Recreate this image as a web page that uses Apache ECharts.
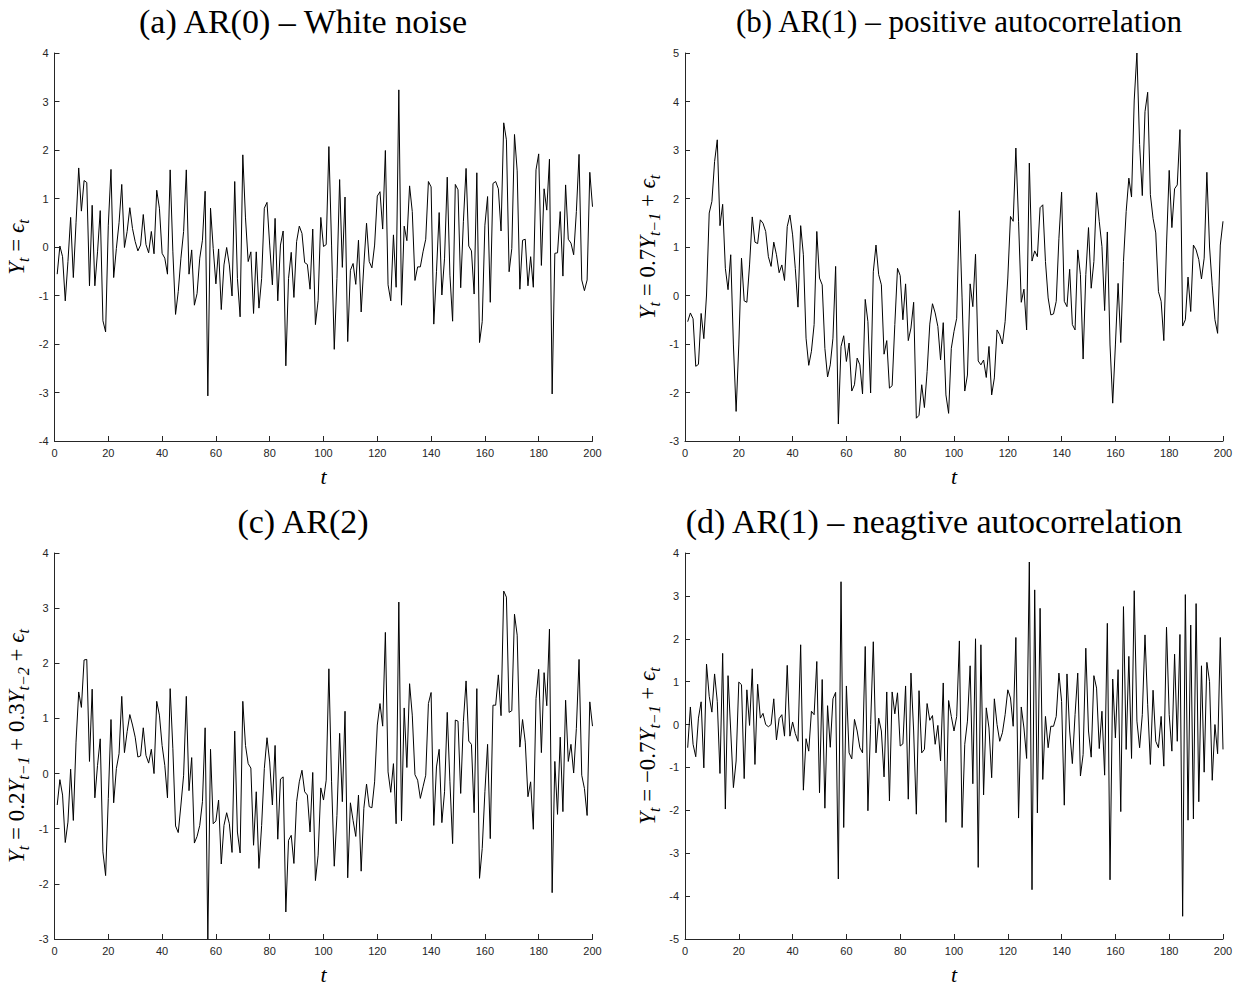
<!DOCTYPE html>
<html><head><meta charset="utf-8">
<script src="https://cdn.jsdelivr.net/npm/echarts@6/dist/echarts.min.js"></script>
<style>html,body{margin:0;padding:0;background:#fff}#c{width:1246px;height:990px}</style>
</head><body><div id="c"></div>
<script>
// ---- data (t = 1..200) ----
const titles = [
  '(a) AR(0) \u2013 White noise',
  '(b) AR(1) \u2013 positive autocorrelation',
  '(c) AR(2)',
  '(d) AR(1) \u2013 neagtive autocorrelation'
];
const yLabels = [
  '{v|Y}{s|t}{n| = }{v|\u03f5}{s|t}',
  '{v|Y}{s|t}{n| = 0.7}{v|Y}{s|t\u22121}{n| + }{v|\u03f5}{s|t}',
  '{v|Y}{s|t}{n| = 0.2}{v|Y}{s|t\u22121}{n| + 0.3}{v|Y}{s|t\u22122}{n| + }{v|\u03f5}{s|t}',
  '{v|Y}{s|t}{n| = \u22120.7}{v|Y}{s|t\u22121}{n| + }{v|\u03f5}{s|t}'
];
const xLabel = 't';
const xTicks = {min: 0, max: 200, interval: 20};
const yRangeA = {min: -4, max: 4, interval: 1};
const yRangeB = {min: -3, max: 5, interval: 1};
const yRangeC = {min: -3, max: 4, interval: 1};
const yRangeD = {min: -5, max: 4, interval: 1};

const seriesA = [
 -0.56, 0.02, -0.2, -1.11, -0.3, 0.61, -0.63, 0.5, 1.63, 0.74,
 1.37, 1.33, -0.8, 0.86, -0.8, -0.1, 0.75, -1.52, -1.75, 0.45,
 1.6, -0.63, -0.03, 0.5, 1.29, -0.01, 0.32, 0.81, 0.38, 0.11,
 -0.08, 0.04, 0.67, 0.05, -0.12, 0.32, -0.14, 1.17, 0.8, -0.13,
 -0.23, -0.56, 1.59, -0.1, -1.39, -0.92, -0.23, 0.32, 1.59, -0.56,
 -0.06, -1.2, -0.96, -0.23, 0.14, 1.15, -3.07, 0.8, -0.03, -0.76,
 -0.04, -1.29, -0.37, -0.01, -0.37, -1.01, 1.35, -0.65, -1.44, 1.9,
 0.6, -0.3, -0.1, -1.37, -0.1, -1.26, -0.65, 0.8, 0.92, 0.04,
 -0.78, 0.59, -1.11, 0.04, 0.33, -2.45, -0.65, -0.11, -1.04, 0.11,
 0.43, 0.28, -0.32, -0.36, -0.87, 0.37, -1.6, -1.1, 0.61, 0.01,
 0.05, 2.07, 0.04, -2.11, -0.65, 1.39, -0.42, 1.03, -1.95, -0.48,
 -0.34, -0.77, 0.14, -1.34, -0.37, 0.49, -0.3, -0.43, 0.04, 1.05,
 1.14, 0.37, 1.99, -0.78, -1.11, 0.25, -0.83, 3.24, -1.2, 0.43,
 0.13, 1.26, 0.73, -0.69, -0.41, -0.41, -0.1, 0.16, 1.35, 1.24,
 -1.59, -0.51, 0.71, -0.99, -0.23, 1.44, -0.58, -1.53, 1.29, 1.18,
 -0.84, 0.52, 1.62, 0.02, -0.08, -0.97, 1.53, -1.97, -1.54, 0.45,
 1.04, -1.14, 1.31, 1.35, 1.2, 0.33, 2.56, 2.21, -0.51, -0.03,
 2.32, 1.57, -0.87, 0.14, 0.16, -0.8, -0.2, -0.83, 1.59, 1.92,
 -0.38, 1.2, 0.76, 1.81, -3.03, -0.13, -0.12, 0.73, -0.6, 1.28,
 0.16, 0.08, -0.16, 0.73, 1.91, -0.68, -0.9, -0.68, 1.54, 0.83
];
const seriesB = [
 -0.54, -0.36, -0.48, -1.46, -1.42, -0.37, -0.89, 0.01, 1.7, 1.94,
 2.76, 3.21, 1.44, 1.88, 0.56, 0.12, 0.84, -1.02, -2.39, -1.02,
 0.77, -0.11, -0.14, 0.63, 1.62, 1.1, 1.07, 1.56, 1.49, 1.32,
 0.8, 0.6, 1.1, 0.84, 0.47, 0.63, 0.31, 1.42, 1.66, 1.25,
 0.56, -0.24, 1.44, 0.84, -0.88, -1.44, -1.15, -0.6, 1.32, 0.36,
 0.22, -1.09, -1.68, -1.43, -0.88, 0.6, -2.65, -1.05, -0.83, -1.36,
 -0.98, -1.97, -1.84, -1.29, -1.43, -2.03, -0.08, -0.54, -2.01, 0.49,
 1.04, 0.43, 0.22, -1.21, -0.93, -1.91, -1.86, -0.6, 0.56, 0.41,
 -0.5, 0.24, -0.93, -0.67, -0.14, -2.53, -2.47, -1.84, -2.31, -1.57,
 -0.59, -0.17, -0.36, -0.64, -1.33, -0.56, -2.05, -2.43, -1.09, -0.74,
 -0.47, 1.75, -0.05, -1.97, -1.64, 0.24, -0.23, 0.85, -1.35, -1.43,
 -1.33, -1.69, -1.05, -2.05, -1.7, -0.71, -0.81, -1.0, -0.54, 0.36,
 1.63, 1.53, 3.04, 1.53, -0.14, 0.13, -0.71, 2.73, 0.71, 0.92,
 0.8, 1.81, 1.87, 0.7, -0.05, -0.4, -0.38, -0.12, 1.18, 2.13,
 -0.12, -0.23, 0.54, -0.6, -0.71, 0.94, 0.43, -1.31, 0.43, 1.4,
 0.15, 0.7, 2.12, 1.53, 1.01, -0.31, 1.31, -1.02, -2.22, -1.02,
 0.25, -0.97, 0.7, 1.73, 2.42, 2.03, 4.03, 5.0, 3.11, 2.06,
 3.79, 4.19, 2.08, 1.59, 1.29, 0.08, -0.12, -0.93, 1.04, 2.58,
 1.4, 2.2, 2.28, 3.42, -0.63, -0.5, 0.38, -0.33, 1.04, 0.94,
 0.74, 0.34, 0.77, 2.54, 1.0, 0.2, -0.5, -0.78, 1.04, 1.53
];
const seriesC = [
 -0.57, -0.11, -0.39, -1.25, -0.88, 0.08, -0.85, 0.57, 1.48, 1.2,
 2.06, 2.07, 0.22, 1.53, -0.44, 0.15, 0.63, -1.42, -1.85, -0.45,
 0.98, -0.53, 0.09, 0.36, 1.4, 0.38, 0.76, 1.07, 0.88, 0.66,
 0.3, 0.32, 0.83, 0.33, 0.19, 0.44, 0, 1.31, 1.06, 0.51,
 0.15, -0.44, 1.54, 0.45, -0.95, -1.07, -0.57, -0.03, 1.4, -0.31,
 0.29, -1.26, -1.14, -0.94, -0.51, 0.83, -3.0, 0.44, -0.91, -0.86,
 -0.48, -1.64, -0.94, -0.71, -0.91, -1.43, 0.77, -1.06, -1.44, 1.31,
 0.51, 0.18, 0.1, -1.3, -0.33, -1.72, -0.94, 0.09, 0.65, 0.21,
 -0.57, 0.51, -1.19, -0.1, -0.06, -2.51, -1.21, -1.12, -1.63, -0.51,
 -0.15, 0.06, -0.33, -0.39, -1.06, 0.02, -1.94, -1.48, -0.26, -0.48,
 -0.12, 1.9, -0.15, -1.68, -0.76, 0.73, -0.51, 1.13, -1.89, -0.53,
 -0.85, -1.14, -0.39, -1.77, -0.63, -0.19, -0.6, -0.62, -0.15, 0.88,
 1.27, 0.86, 2.56, 0.03, -0.34, 0.18, -0.91, 3.11, -0.86, 1.19,
 0.11, 1.63, 1.06, -0.02, -0.12, -0.45, -0.24, -0.03, 1.27, 1.47,
 -0.94, 0.12, 0.44, -0.89, -0.33, 1.11, -0.15, -1.27, 0.97, 0.95,
 -0.36, 0.94, 1.68, 0.59, 0.53, -0.71, 1.54, -1.9, -1.36, -0.33,
 0.53, -1.18, 1.24, 1.24, 1.79, 1.05, 3.31, 3.2, 1.11, 1.14,
 2.89, 2.51, 0.48, 0.98, 0.57, -0.42, -0.15, -1.01, 1.36, 1.89,
 0.38, 1.83, 1.23, 2.62, -2.16, 0.22, -0.74, 0.66, -0.69, 1.33,
 0.22, 0.53, 0.01, 0.82, 2.07, -0.03, -0.27, -0.76, 1.3, 0.86
];
const seriesD = [
 -0.54, 0.41, -0.46, -0.75, 0.15, 0.53, -1.01, 1.41, 0.66, 0.29,
 1.18, 0.54, -1.14, 1.66, -1.97, 1.14, -0.15, -1.47, -0.85, 0.99,
 0.93, -1.26, 0.81, -0.02, 1.3, -0.93, 0.94, 0.15, 0.26, 0,
 -0.05, 0, 0.6, -0.36, 0.14, 0.23, -0.27, 1.38, -0.27, 0.06,
 -0.21, -0.39, 1.86, -1.53, -0.33, -0.62, 0.31, 0.23, 1.47, -1.59,
 1.05, -1.95, 0.44, -0.53, 0.6, 0.75, -3.6, 3.33, -2.4, 0.9,
 -0.66, -0.8, 0.12, -0.15, -0.54, -0.66, 1.82, -2.01, 0, 1.93,
 -0.66, 0.15, -0.15, -1.22, 0.76, -1.78, 0.76, 0.25, 0.74, -0.5,
 -0.45, 0.9, -1.74, 1.2, -0.15, -2.09, 0.79, -0.66, -0.58, 0.49,
 0.1, 0.21, -0.46, -0.02, -0.85, 0.97, -2.28, 0.56, 0.19, -0.15,
 0.19, 1.95, -2.4, -0.46, 0.08, 1.37, -1.38, 2.0, -3.33, 1.86,
 -1.64, 0.39, -0.08, -1.24, 0.6, 0, -0.39, -0.19, 0.23, 0.81,
 0.62, -0.04, 2.03, -2.18, 0.41, -0.08, -0.79, 3.79, -3.85, 3.14,
 -2.06, 2.71, -1.28, 0.19, -0.54, -0.04, -0.04, 0.19, 1.2, 0.54,
 -1.88, 1.18, -0.15, -0.91, 0.23, 1.2, -1.2, -0.7, 1.78, -0.15,
 -0.76, 1.14, 0.85, -0.56, 0.31, -1.18, 2.36, -3.62, 1.06, -0.31,
 1.28, -2.03, 2.75, -0.58, 1.59, -0.79, 3.12, 0.08, -0.54, 0.23,
 2.09, 0.46, -0.93, 0.8, -0.39, -0.54, 0.19, -0.97, 2.27, 0.23,
 -0.62, 1.64, -0.39, 2.1, -4.47, 3.03, -2.23, 2.32, -2.2, 2.82,
 -1.8, 1.37, -1.11, 1.45, 1.0, -1.3, 0, -0.68, 2.03, -0.58
];

// ---- chart ----
const AXIS = '#262626';
const serif = "'Liberation Serif', 'Times New Roman', serif";
const sans = "'Liberation Sans', Arial, sans-serif";
const grids = [
  {left: 54.5, top: 53, width: 538, height: 388},
  {left: 685, top: 53, width: 538, height: 388},
  {left: 54.5, top: 553, width: 538, height: 386},
  {left: 685, top: 553, width: 538, height: 386}
];
const titleLayout = [[303, 4, 34], [959, 6, 31], [303, 504, 34], [934, 504, 34]];
const yRanges = [yRangeA, yRangeB, yRangeC, yRangeD];
const allSeries = [seriesA, seriesB, seriesC, seriesD];

const rich = {
  v: {fontFamily: serif, fontStyle: 'italic', fontSize: 23, lineHeight: 30, verticalAlign: 'middle', color: '#000'},
  n: {fontFamily: serif, fontSize: 23, lineHeight: 30, verticalAlign: 'middle', color: '#000'},
  s: {fontFamily: serif, fontStyle: 'italic', fontSize: 16, lineHeight: 16, verticalAlign: 'bottom', color: '#000'}
};

const option = {
  backgroundColor: '#fff',
  animation: false,
  title: titles.map((t, i) => ({
    text: t, left: titleLayout[i][0], top: titleLayout[i][1], textAlign: 'center', padding: 0,
    textStyle: {fontFamily: serif, fontSize: titleLayout[i][2], fontWeight: 'normal', color: '#000'}
  })),
  grid: grids,
  xAxis: grids.map((g, i) => ({
    type: 'value', gridIndex: i, min: xTicks.min, max: xTicks.max, interval: xTicks.interval,
    name: xLabel, nameLocation: 'middle', nameGap: 24,
    nameTextStyle: {fontFamily: serif, fontStyle: 'italic', fontSize: 22, color: '#000'},
    axisLine: {show: true, onZero: false, lineStyle: {color: AXIS, width: 1}},
    axisTick: {show: true, inside: true, length: 5, lineStyle: {color: AXIS}},
    axisLabel: {color: AXIS, fontFamily: sans, fontSize: 11, margin: 6},
    splitLine: {show: false}
  })),
  yAxis: grids.map((g, i) => ({
    type: 'value', gridIndex: i, min: yRanges[i].min, max: yRanges[i].max, interval: yRanges[i].interval,
    name: yLabels[i], nameLocation: 'middle', nameRotate: 90, nameGap: 23,
    nameTextStyle: {rich: rich},
    axisLine: {show: true, onZero: false, lineStyle: {color: AXIS, width: 1}},
    axisTick: {show: true, inside: true, length: 5, lineStyle: {color: AXIS}},
    axisLabel: {color: AXIS, fontFamily: sans, fontSize: 11, margin: 6},
    splitLine: {show: false}
  })),
  series: allSeries.map((arr, i) => ({
    type: 'line', xAxisIndex: i, yAxisIndex: i,
    data: arr.map((v, k) => [k + 1, v]),
    showSymbol: false, symbol: 'none',
    lineStyle: {color: '#000', width: 1},
    itemStyle: {color: '#000'}
  }))
};
const chart = echarts.init(document.getElementById('c'), null, {renderer: 'svg'});
chart.setOption(option);
</script></body></html>
